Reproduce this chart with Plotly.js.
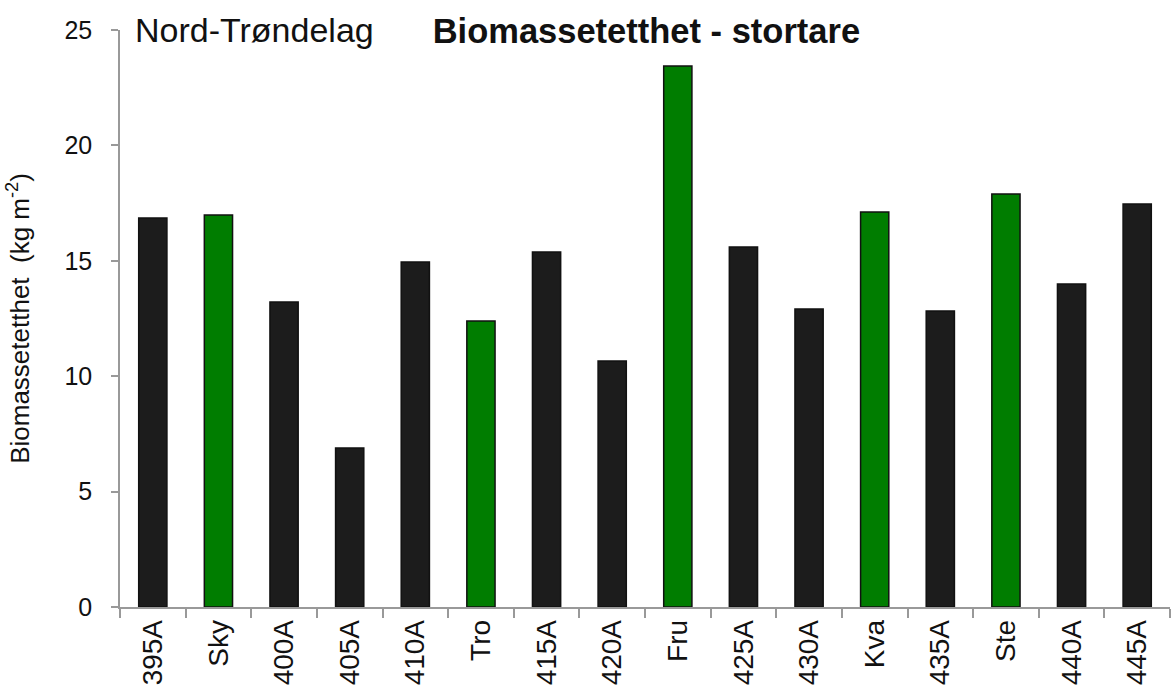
<!DOCTYPE html>
<html><head><meta charset="utf-8">
<script src="https://cdn.plot.ly/plotly-3.0.1.min.js"></script>
<style>html,body{margin:0;padding:0;background:#fff}#c{width:1171px;height:687px}</style>
</head><body><div id="c"></div>
<script>
const categories = ["395A","Sky","400A","405A","410A","Tro","415A","420A","Fru","425A","430A","Kva","435A","Ste","440A","445A"];
const values = [16.85,16.98,13.21,6.89,14.95,12.39,15.38,10.66,23.44,15.6,12.91,17.11,12.82,17.89,13.99,17.46];
const groups = ["A","G","A","A","A","G","A","A","G","A","A","G","A","G","A","A"];
const colorMap = {A:"#1c1c1c", G:"#007d00"};

const trace = {
  type:"bar", x:categories, y:values,
  marker:{color:groups.map(g=>colorMap[g]), line:{color:"#111", width:1.5}},
  hoverinfo:"x+y"
};
const layout = {
  width:1171, height:687,
  margin:{l:120, r:1, t:30, b:80},
  paper_bgcolor:"#fff", plot_bgcolor:"#fff",
  font:{family:"Liberation Sans", color:"#111"},
  bargap:0.57,
  showlegend:false,
  title:{text:"<b>Biomassetetthet - stortare</b>", x:0.552, xanchor:"center", y:0.955, yanchor:"middle", font:{size:34.5, color:"#111"}},
  xaxis:{type:"category", tickson:"boundaries", ticks:"outside", ticklen:9, tickcolor:"#999", tickwidth:1.5,
    automargin:false,
    showline:true, linecolor:"#999", linewidth:1.5, tickangle:-90, tickfont:{size:28, color:"#111"}, showgrid:false, zeroline:false},
  yaxis:{range:[0,25], tickvals:[0,5,10,15,20,25], ticks:"outside", ticklen:7, tickcolor:"#999", tickwidth:1.5,
    automargin:false, ticklabelstandoff:14,
    showline:true, linecolor:"#999", linewidth:1.5, showgrid:false, zeroline:false, tickfont:{size:25, color:"#111"},
    title:{text:"Biomassetetthet  (kg m<sup>-2</sup>)", font:{size:26, color:"#111"}, standoff:27}},
  annotations:[{text:"Nord-Trøndelag", xref:"paper", yref:"paper", x:0.012, y:1.0, xanchor:"left", yanchor:"middle", showarrow:false, font:{size:34, color:"#111"}}]
};
Plotly.newPlot("c",[trace],layout,{displayModeBar:false});
</script></body></html>
